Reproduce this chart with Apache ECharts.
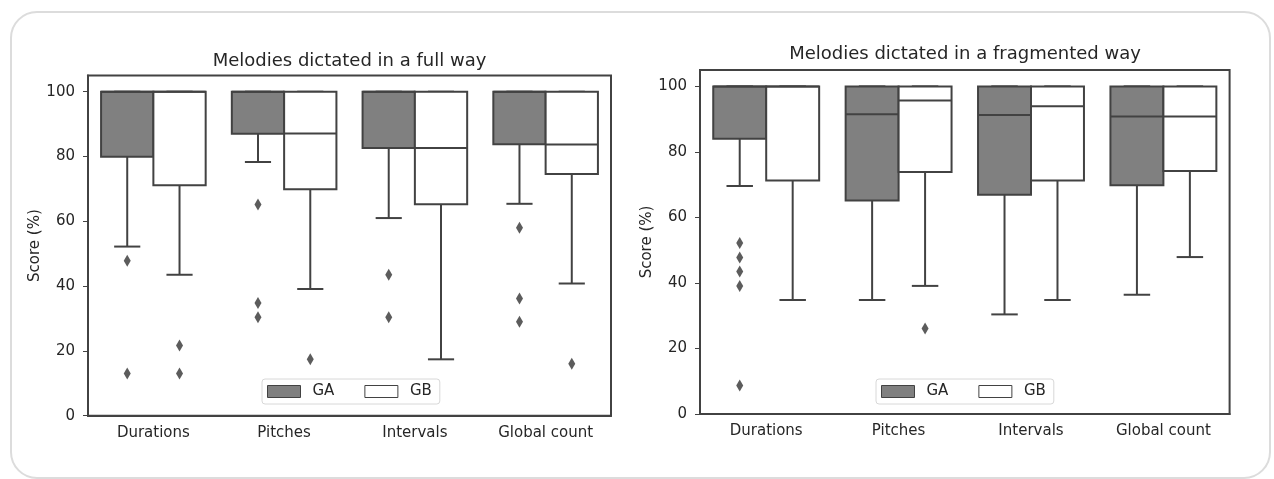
<!DOCTYPE html>
<html>
<head>
<meta charset="utf-8">
<script src="https://cdn.jsdelivr.net/npm/echarts@6.0.0/dist/echarts.min.js"></script>
<style>
  html, body { margin: 0; padding: 0; background: #fff; }
</style>
</head>
<body>
<div id="main" style="width:1274px;height:479px;"></div>
<script>
// categories and y ticks
var categories = ['Durations', 'Pitches', 'Intervals', 'Global count'];
var yTicks = [0, 20, 40, 60, 80, 100];

// box stats per category: [lower whisker, Q1, median, Q3, upper whisker]
// melodies dictated in a full way
var fullGA = [[52.2, 79.9, 100, 100, 100], [78.3, 87.0, 100, 100, 100], [61.0, 82.6, 100, 100, 100], [65.4, 83.8, 100, 100, 100]];
var fullGB = [[43.5, 71.1, 100, 100, 100], [39.1, 69.9, 87.1, 100, 100], [17.4, 65.3, 82.6, 100, 100], [40.8, 74.6, 83.7, 100, 100]];
// outliers, one list per category
var fullGAOut = [[47.8, 13.0], [65.2, 34.8, 30.4], [43.5, 30.4], [58.0, 36.2, 29.0]];
var fullGBOut = [[21.7, 13.0], [17.4], [], [16.0]];

// melodies dictated in a fragmented way
var fragGA = [[69.6, 84.0, 100, 100, 100], [34.8, 65.2, 91.5, 100, 100], [30.4, 66.9, 91.3, 100, 100], [36.4, 69.8, 90.8, 100, 100]];
var fragGB = [[34.8, 71.3, 100, 100, 100], [39.1, 73.9, 95.7, 100, 100], [34.8, 71.3, 93.9, 100, 100], [47.9, 74.2, 90.8, 100, 100]];
var fragGAOut = [[52.2, 47.8, 43.5, 39.1, 8.7], [], [], []];
var fragGBOut = [[], [26.1], [], []];

var edge = '#424242';
var txt = '#262626';
var font = 'DejaVu Sans';
var gaFill = '#808080';
var gbFill = '#ffffff';

var grids = [
    {left: 88, top: 75.5, width: 523, height: 340.2},
    {left: 700, top: 70, width: 529.6, height: 344}
];

function toBoxData(stats) {
    return stats.map(function (s, i) { return [i].concat(s); });
}
function toOutData(list) {
    var out = [];
    list.forEach(function (vals, i) {
        vals.forEach(function (v) { out.push([i, v]); });
    });
    return out;
}

function boxRenderer(fill, side) {
    return function (params, api) {
        var cat = api.value(0);
        var bw = api.size([1, 0])[0];
        var w = bw * 0.4;
        var cx = api.coord([cat, 0])[0] + side * w / 2;
        var y = function (i) { return api.coord([cat, api.value(i)])[1]; };
        var yMin = y(1), yQ1 = y(2), yMed = y(3), yQ3 = y(4), yMax = y(5);
        var ls = {stroke: edge, lineWidth: 2};
        var cap = w / 4;
        return {
            type: 'group',
            children: [
                {type: 'line', shape: {x1: cx, y1: yQ1, x2: cx, y2: yMin}, style: ls},
                {type: 'line', shape: {x1: cx - cap, y1: yMin, x2: cx + cap, y2: yMin}, style: ls},
                {type: 'line', shape: {x1: cx, y1: yQ3, x2: cx, y2: yMax}, style: ls},
                {type: 'line', shape: {x1: cx - cap, y1: yMax, x2: cx + cap, y2: yMax}, style: ls},
                {type: 'rect', shape: {x: cx - w / 2, y: yQ3, width: w, height: yQ1 - yQ3},
                    style: {fill: fill, stroke: edge, lineWidth: 2}},
                {type: 'line', shape: {x1: cx - w / 2, y1: yMed, x2: cx + w / 2, y2: yMed}, style: ls}
            ]
        };
    };
}

function boxSeries(name, stats, fill, side, idx) {
    return {
        name: name,
        type: 'custom',
        xAxisIndex: idx,
        yAxisIndex: idx,
        itemStyle: {color: fill, borderColor: edge, borderWidth: 1},
        renderItem: boxRenderer(fill, side),
        encode: {x: 0, y: [1, 2, 3, 4, 5]},
        data: toBoxData(stats)
    };
}

function outSeries(name, list, side, idx) {
    var bw = grids[idx].width / categories.length;
    return {
        name: name,
        type: 'scatter',
        xAxisIndex: idx,
        yAxisIndex: idx,
        symbol: 'diamond',
        symbolSize: [7, 12],
        symbolOffset: [side * bw * 0.2, 0],
        itemStyle: {color: '#333333'},
        data: toOutData(list)
    };
}

function legendFor(left) {
    return {
        left: left, top: 379,
        icon: 'rect',
        itemWidth: 33, itemHeight: 12, itemGap: 30,
        padding: [5, 8, 5, 5],
        borderColor: '#d8d8d8', borderWidth: 1, borderRadius: 3,
        backgroundColor: '#fff',
        textStyle: {fontFamily: font, fontSize: 15, color: txt, padding: [0, 0, 0, 7]},
        data: [
            {name: 'GA', itemStyle: {color: gaFill, borderColor: edge, borderWidth: 1}},
            {name: 'GB', itemStyle: {color: gbFill, borderColor: edge, borderWidth: 1}}
        ]
    };
}

function xAxisFor(idx) {
    return {
        type: 'category', gridIndex: idx, data: categories,
        axisLine: {lineStyle: {color: edge, width: 2}},
        axisTick: {alignWithLabel: true, length: 5, lineStyle: {color: edge}},
        axisLabel: {fontFamily: font, fontSize: 15, color: txt, margin: 10},
        splitLine: {show: false}
    };
}
function yAxisFor(idx) {
    return {
        type: 'value', gridIndex: idx, min: 0, max: 105,
        name: 'Score (%)', nameLocation: 'middle', nameRotate: 90, nameGap: 43,
        nameTextStyle: {fontFamily: font, fontSize: 15, color: txt},
        axisLine: {show: true, lineStyle: {color: edge, width: 2}},
        axisTick: {show: true, length: 5, customValues: yTicks, lineStyle: {color: edge}},
        axisLabel: {fontFamily: font, fontSize: 15, color: txt, margin: 13, customValues: yTicks},
        splitLine: {show: false}
    };
}

var chart = echarts.init(document.getElementById('main'));
chart.setOption({
    backgroundColor: '#fff',
    animation: false,
    graphic: [{
        type: 'rect', silent: true, z: -10,
        shape: {x: 11, y: 12, width: 1259, height: 466, r: 26},
        style: {fill: null, stroke: '#dcdcdc', lineWidth: 2}
    }],
    title: [
        {text: 'Melodies dictated in a full way', left: 349.5, top: 52, textAlign: 'center', padding: 0,
            textStyle: {fontFamily: font, fontSize: 18, fontWeight: 'normal', color: txt}},
        {text: 'Melodies dictated in a fragmented way', left: 965, top: 45, textAlign: 'center', padding: 0,
            textStyle: {fontFamily: font, fontSize: 18, fontWeight: 'normal', color: txt}}
    ],
    legend: [legendFor(262), legendFor(876)],
    grid: grids.map(function (g) {
        return {left: g.left, top: g.top, width: g.width, height: g.height,
            show: true, borderColor: edge, borderWidth: 2, backgroundColor: 'transparent'};
    }),
    xAxis: [xAxisFor(0), xAxisFor(1)],
    yAxis: [yAxisFor(0), yAxisFor(1)],
    series: [
        boxSeries('GA', fullGA, gaFill, -1, 0),
        boxSeries('GB', fullGB, gbFill, 1, 0),
        outSeries('GA outliers', fullGAOut, -1, 0),
        outSeries('GB outliers', fullGBOut, 1, 0),
        boxSeries('GA', fragGA, gaFill, -1, 1),
        boxSeries('GB', fragGB, gbFill, 1, 1),
        outSeries('GA outliers', fragGAOut, -1, 1),
        outSeries('GB outliers', fragGBOut, 1, 1)
    ]
});
</script>
</body>
</html>
